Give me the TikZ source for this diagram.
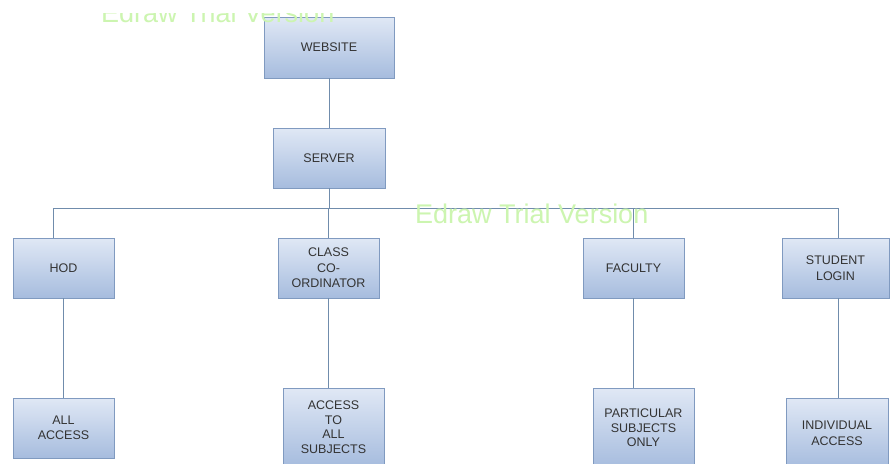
\documentclass[tikz,border=0pt]{standalone}
\usepackage{fontspec}
\setmainfont{Liberation Sans}
\usepackage{tikz}
\usepackage{xcolor}

\definecolor{boxtop}{RGB}{224,232,245}
\definecolor{boxbot}{RGB}{166,188,222}
\definecolor{boxline}{RGB}{128,154,192}
\definecolor{wire}{RGB}{112,140,172}
\definecolor{trialgreen}{RGB}{204,245,176}

\begin{document}
\begin{tikzpicture}[x=1pt,y=-1pt,
  box/.style={draw=boxline,top color=boxtop,bottom color=boxbot,
    minimum width=101pt,minimum height=60pt,inner sep=1pt,align=center,
    text=black!80,font=\fontsize{12.5}{14.5}\selectfont},
  link/.style={draw=wire,line width=0.8pt},
  trial/.style={text=trialgreen,font=\fontsize{27}{27}\selectfont,inner sep=0pt}]
\useasboundingbox[fill=white] (0,0) rectangle (891,463);

% top part
\node[box,minimum width=130pt,minimum height=61pt] (web) at (329,47.5) {WEBSITE};
\node[box,minimum width=112pt] (srv) at (329,158) {SERVER};

% roles
\node[box] (hod) at (63.5,268) {HOD};
\node[box,font=\fontsize{12.5}{15.5}\selectfont] (cls) at (328.5,268) {CLASS\\CO-\\ORDINATOR};
\node[box] (fac) at (633.5,268) {FACULTY};
\node[box,minimum width=107pt,font=\fontsize{12.5}{16}\selectfont] (stu) at (835.5,268) {STUDENT\\LOGIN};

% access rights
\node[box] (all) at (63.5,428) {ALL\\ACCESS};
\node[box,minimum height=78pt] (acc) at (333.5,427) {ACCESS\\TO\\ALL\\SUBJECTS};
\node[box,minimum height=80pt] (par) at (643.5,428) {PARTICULAR\\SUBJECTS\\ONLY};
\node[box,minimum width=102pt,minimum height=70pt,font=\fontsize{12.5}{16}\selectfont] (ind) at (837,433) {INDIVIDUAL\\ACCESS};

\coordinate (bus) at (329,208);
\draw[link] (web) -- (srv);
\draw[link] (srv.south) -- (bus);
\draw[link] ([xshift=-10.5pt]hod.north) |- (bus);
\draw[link] (cls.north) -- (cls.north |- bus);
\draw[link] (fac.north) |- (bus);
\draw[link] ([xshift=2.5pt]stu.north) |- (bus);

\draw[link] (hod.south) -- (all.north);
\draw[link] (cls.south) -- (cls.south |- acc.north);
\draw[link] (fac.south) -- (fac.south |- par.north);
\draw[link] ([xshift=2.5pt]stu.south) -- ([xshift=2.5pt]stu.south |- ind.north);

% watermarks
\begin{scope}
\clip (0,13) rectangle (891,463);
\node[trial,anchor=base west] (wm1) at (101,22) {Edraw Trial Version};
\end{scope}
\node[trial,anchor=base west] (wm2) at (415,223) {Edraw Trial Version};
\end{tikzpicture}
\end{document}
